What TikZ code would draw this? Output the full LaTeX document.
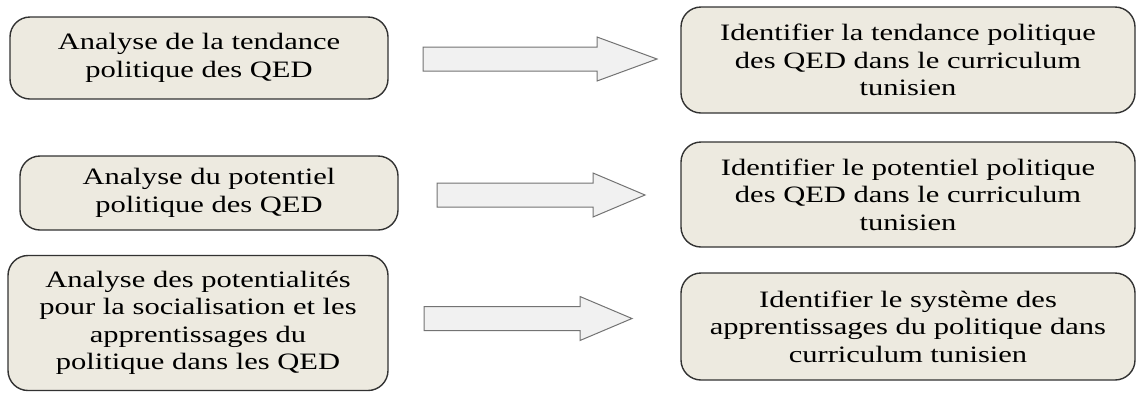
\documentclass[tikz,border=0pt]{standalone}
\usepackage{fontspec}
\setmainfont{Liberation Serif}[FakeStretch=1.30]
\usetikzlibrary{calc}

\definecolor{boxbeige}{RGB}{237,234,224}
\definecolor{arrowfill}{RGB}{241,241,241}
\definecolor{edgegray}{RGB}{50,50,50}

\tikzset{
  qedbox/.style={draw=edgegray, line width=1.4pt, fill=boxbeige, rounded corners=20pt,
    align=center, inner sep=0pt, font=\fontsize{23.5}{27.5}\selectfont},
  blockarrow/.style={draw=black!55, line width=1pt, fill=arrowfill},
}
% block arrow: tail, tip, head length
\newcommand{\qedarrow}[3]{%
  \draw[blockarrow] let \p1=(#1), \p2=(#2) in
    (\x1,\y1+12pt) -- (\x2-#3pt,\y1+12pt) -- (\x2-#3pt,\y1+22pt) -- (\x2,\y1)
    -- (\x2-#3pt,\y1-22pt) -- (\x2-#3pt,\y1-12pt) -- (\x1,\y1-12pt) -- cycle;}

\begin{document}
\begin{tikzpicture}[x=1pt, y=-1pt]
    \useasboundingbox (0,0) rectangle (1137,392);
    % analyses
    \node [qedbox, minimum width=378, minimum height=82] (ana1) at (199,58)
      {Analyse de la tendance\\politique des QED};
    \node [qedbox, minimum width=378, minimum height=74] (ana2) at (209,193)
      {Analyse du potentiel\\politique des QED};
    \node [qedbox, minimum width=380, minimum height=135] (ana3) at (198,323)
      {Analyse des potentialités\\pour la socialisation et les\\apprentissages du\\politique dans les QED};
    % objectifs
    \node [qedbox, minimum width=454, minimum height=106] (obj1) at (908,60)
      {Identifier la tendance politique\\des QED dans le curriculum\\tunisien};
    \node [qedbox, minimum width=454, minimum height=105] (obj2) at (908,194.5)
      {Identifier le potentiel politique\\des QED dans le curriculum\\tunisien};
    \node [qedbox, minimum width=454, minimum height=107] (obj3) at (908,326.5)
      {Identifier le système des\\apprentissages du politique dans\\curriculum tunisien};
    % arrows
    \coordinate (a1s) at (423,59);  \coordinate (a1e) at (657,59);
    \coordinate (a2s) at (437,195); \coordinate (a2e) at (645,195);
    \coordinate (a3s) at (424,318.5); \coordinate (a3e) at (632,318.5);
    \qedarrow{a1s}{a1e}{60}
    \qedarrow{a2s}{a2e}{52}
    \qedarrow{a3s}{a3e}{52}
\end{tikzpicture}
\end{document}
